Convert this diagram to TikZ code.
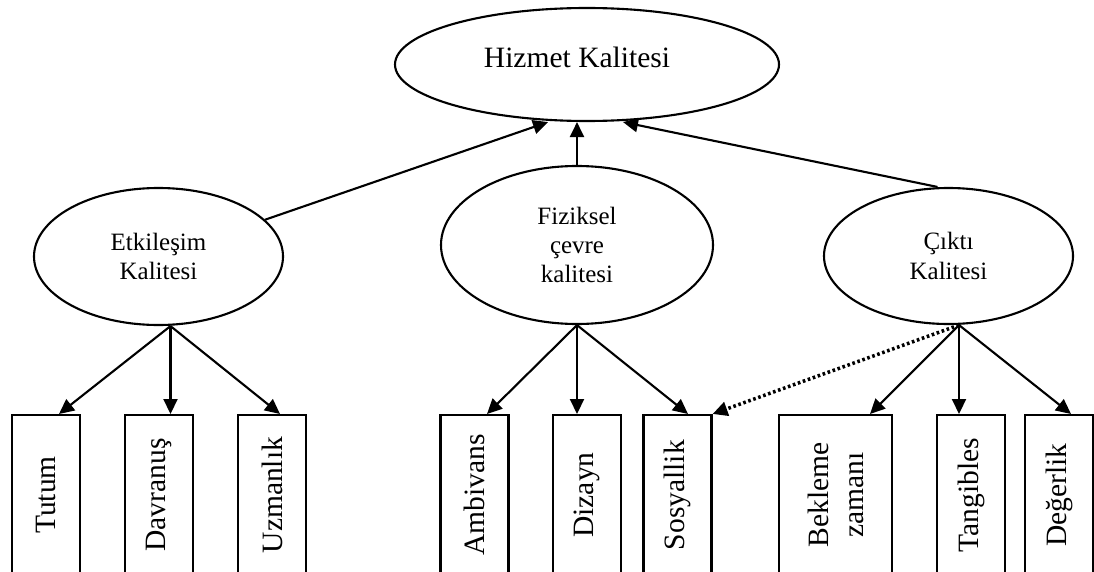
\documentclass[tikz,border=0pt]{standalone}
\usepackage{fontspec}
\setmainfont{Liberation Serif}
\usetikzlibrary{arrows.meta,shapes.geometric}

\begin{document}
\begin{tikzpicture}[
    line width=1.2pt,
    >={Triangle[length=3mm,width=2.8mm]},
    oval/.style={draw, ellipse, inner sep=0pt, align=center,
        font=\fontsize{14.2pt}{16.6pt}\selectfont},
    item/.style={draw, rotate=90, anchor=east, inner sep=0pt, align=center,
        minimum width=3.2cm, minimum height=1.36cm,
        font=\fontsize{16.8pt}{19.9pt}\selectfont}
]

% Frame
\useasboundingbox (0,0) rectangle (21.88,11.42);
\clip (0,0) rectangle (21.88,11.42);

% Top concept
\node[draw, ellipse, inner sep=0pt, minimum width=7.68cm, minimum height=2.26cm,
      text depth=0.3cm, font=\fontsize{16.8pt}{19.9pt}\selectfont]
      (H) at (11.74,10.13) {Hizmet Kalitesi\hspace*{4mm}};

% Dimensions
\node[oval, minimum width=4.98cm, minimum height=2.74cm] (E) at (3.17,6.29) {Etkileşim\\Kalitesi};
\node[oval, minimum width=5.44cm, minimum height=3.16cm] (F) at (11.54,6.52) {Fiziksel\\çevre\\kalitesi};
\node[oval, minimum width=4.98cm, minimum height=2.72cm] (C) at (18.97,6.30) {Çıktı\\Kalitesi};

% Items (boxes run off the bottom edge)
\node[item] (Tu) at (0.92,3.14) {Tutum};
\node[item] (Da) at (3.18,3.14) {Davranuş};
\node[item] (Uz) at (5.44,3.14) {Uzmanlık};
\node[item] (Am) at (9.49,3.14) {Ambivans};
\node[item] (Di) at (11.74,3.14) {Dizayn};
\node[item] (So) at (13.55,3.14) {Sosyallik};
\node[item, minimum height=2.26cm] (Be) at (16.71,3.14) {Bekleme\\zamanı};
\node[item] (Ta) at (19.42,3.14) {Tangibles};
\node[item] (De) at (21.18,3.14) {Değerlik};

% Feet of the dimension ovals
\coordinate (Eb) at ([xshift=0.24cm]E.south);
\coordinate (Cb) at ([xshift=0.21cm]C.south);

% Arrows up to the top concept
\draw[->] (E) -- ([xshift=-0.78cm]H.south);
\draw[->] (F.north) -- (F.north |- H.south);
\draw[->] ([xshift=-0.22cm]C.north) -- ([xshift=0.72cm]H.south);

% Arrows down to the items
\draw[->] (Eb) -- ([xshift=0.26cm]Tu.east);
\draw[->] (Eb) -- (Eb |- Da.east);
\draw[->] (Eb) -- ([xshift=0.16cm]Uz.east);
\draw[->] (F.south) -- ([xshift=0.25cm]Am.east);
\draw[->] (F.south) -- (F.south |- Di.east);
\draw[->] (F.south) -- ([xshift=0.21cm]So.east);
\draw[->] (Cb) -- ([xshift=0.69cm]Be.east);
\draw[->] (Cb) -- (Cb |- Ta.east);
\draw[->] (Cb) -- ([xshift=0.24cm]De.east);

% Cross link
\draw[->, line width=2pt, dash pattern=on 1.5pt off 1.5pt] (Cb) -- (So.south east);

\end{tikzpicture}
\end{document}
